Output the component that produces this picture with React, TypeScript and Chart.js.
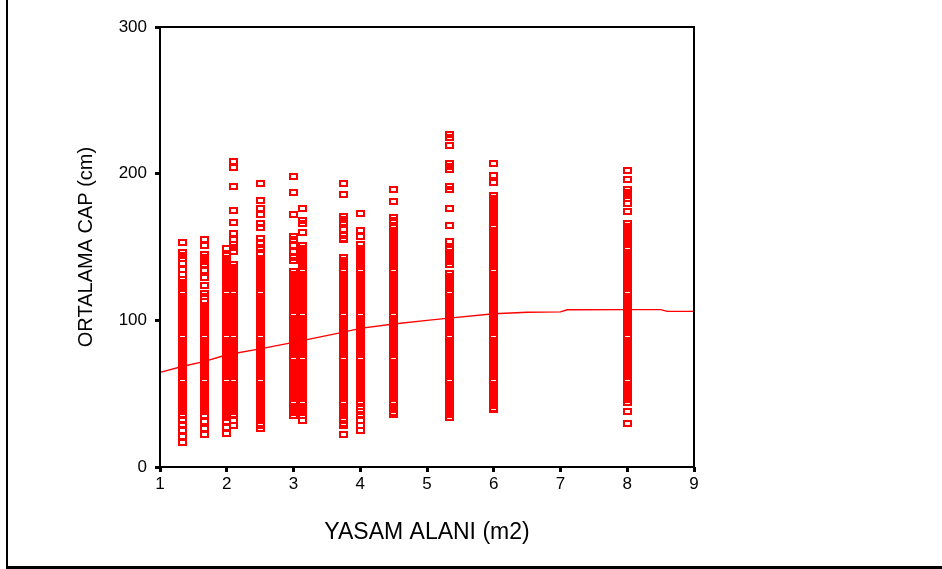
import React, { useEffect, useRef } from "react";
import { Chart, registerables } from "chart.js";

Chart.register(...registerables);

// Axis ticks
const xTicks = [1, 2, 3, 4, 5, 6, 7, 8, 9];
const yTicks = [0, 100, 200, 300];

// Living-area categories (x) — YASAM ALANI (m2)
const areaCategories = [1.33, 1.67, 2.0, 2.1, 2.5, 3.0, 3.14, 3.75, 4.0, 4.5, 5.33, 6.0, 8.0];

// Mean diameter values (y) — ORTALAMA CAP (cm), one list per area category
const capArea133 = [153, 146, 144, 142, 139, 135, 131, 128, 126, 124, 122, 120, 118, 116, 114, 112, 110, 108, 106, 104, 102, 100, 98, 96, 94, 92, 90, 88, 86, 84, 82, 80, 78, 76, 74, 72, 70, 68, 66, 64, 62, 60, 58, 56, 54, 52, 50, 48, 46, 44, 42, 40, 38, 36, 32, 29, 25, 21, 17];
const capArea167 = [155, 151, 145, 143, 140, 138, 134, 129, 124, 118, 116, 113, 110, 108, 106, 104, 102, 100, 98, 96, 94, 92, 90, 88, 86, 84, 82, 80, 78, 76, 74, 72, 70, 68, 66, 64, 62, 60, 58, 56, 54, 52, 50, 48, 46, 44, 42, 40, 38, 35, 31, 26, 22];
const capArea200 = [149, 144, 142, 140, 138, 136, 134, 132, 130, 128, 126, 124, 122, 120, 118, 116, 114, 112, 110, 108, 106, 104, 102, 100, 98, 96, 94, 92, 90, 88, 86, 84, 82, 80, 78, 76, 74, 72, 70, 68, 66, 64, 62, 60, 58, 56, 54, 52, 50, 48, 46, 44, 42, 40, 38, 36, 34, 31, 27, 23];
const capArea210 = [208, 204, 191, 175, 167, 159, 155, 152, 150, 147, 138, 136, 134, 132, 130, 128, 126, 124, 122, 120, 118, 116, 114, 112, 110, 108, 106, 104, 102, 100, 98, 96, 94, 92, 90, 88, 86, 84, 82, 80, 78, 76, 74, 72, 70, 68, 66, 64, 62, 60, 58, 56, 54, 52, 50, 48, 46, 44, 42, 40, 38, 36, 32, 28];
const capArea250 = [193, 182, 176, 172, 166, 163, 156, 153, 150, 148, 145, 142, 140, 138, 136, 134, 132, 130, 128, 126, 124, 122, 120, 118, 116, 114, 112, 110, 108, 106, 104, 102, 100, 98, 96, 94, 92, 90, 88, 86, 84, 82, 80, 78, 76, 74, 72, 70, 68, 66, 64, 62, 60, 58, 56, 54, 52, 50, 48, 46, 44, 42, 40, 38, 36, 34, 32, 30, 28, 26];
const capArea300 = [198, 187, 172, 157, 155, 151, 147, 143, 141, 133, 131, 129, 127, 125, 123, 121, 119, 117, 115, 113, 111, 109, 107, 105, 103, 101, 99, 97, 95, 93, 91, 89, 87, 85, 83, 81, 79, 77, 75, 73, 71, 69, 67, 65, 63, 61, 59, 57, 55, 53, 51, 49, 47, 45, 43, 41, 39, 37, 35];
const capArea314 = [176, 168, 166, 160, 151, 149, 147, 145, 143, 141, 139, 137, 135, 133, 131, 129, 127, 125, 123, 121, 119, 117, 115, 113, 111, 109, 107, 105, 103, 101, 99, 97, 95, 93, 91, 89, 87, 85, 83, 81, 79, 77, 75, 73, 71, 69, 67, 65, 63, 61, 59, 57, 55, 53, 51, 49, 47, 45, 43, 41, 39, 37, 35, 32];
const capArea375 = [193, 186, 171, 169, 167, 162, 158, 156, 155, 143, 141, 139, 137, 135, 133, 131, 129, 127, 125, 123, 121, 119, 117, 115, 113, 111, 109, 107, 105, 103, 101, 99, 97, 95, 93, 91, 89, 87, 85, 83, 81, 79, 77, 75, 73, 71, 69, 67, 65, 63, 61, 59, 57, 55, 53, 51, 49, 47, 45, 43, 41, 39, 37, 35, 33, 30, 28, 22];
const capArea400 = [173, 161, 157, 152, 149, 147, 145, 143, 141, 139, 137, 135, 133, 131, 129, 127, 125, 123, 121, 119, 117, 115, 113, 111, 109, 107, 105, 103, 101, 99, 97, 95, 93, 91, 89, 87, 85, 83, 81, 79, 77, 75, 73, 71, 69, 67, 65, 63, 61, 59, 57, 55, 53, 51, 49, 47, 45, 43, 41, 38, 36, 32, 28, 25];
const capArea450 = [189, 181, 170, 168, 165, 163, 161, 159, 157, 155, 153, 151, 149, 147, 145, 143, 141, 139, 137, 135, 133, 131, 129, 127, 125, 123, 121, 119, 117, 115, 113, 111, 109, 107, 105, 103, 101, 99, 97, 95, 93, 91, 89, 87, 85, 83, 81, 79, 77, 75, 73, 71, 69, 67, 65, 63, 61, 59, 57, 55, 53, 51, 49, 47, 45, 43, 41, 39, 37, 36];
const capArea533 = [227, 225, 219, 207, 205, 203, 191, 189, 176, 165, 154, 150, 148, 146, 144, 142, 140, 138, 132, 130, 128, 126, 124, 122, 120, 118, 116, 114, 112, 110, 108, 106, 104, 102, 100, 98, 96, 94, 92, 90, 88, 86, 84, 82, 80, 78, 76, 74, 72, 70, 68, 66, 64, 62, 60, 58, 56, 54, 52, 50, 48, 46, 44, 42, 40, 38, 36, 34];
const capArea600 = [207, 199, 194, 185, 183, 181, 179, 177, 175, 173, 171, 169, 167, 165, 163, 161, 159, 157, 155, 153, 151, 149, 147, 145, 143, 141, 139, 137, 135, 133, 131, 129, 127, 125, 123, 121, 118, 116, 114, 112, 110, 108, 106, 104, 102, 100, 98, 96, 94, 92, 90, 88, 86, 84, 82, 80, 78, 76, 74, 72, 70, 68, 66, 64, 62, 60, 58, 56, 54, 52, 50, 48, 46, 44, 42, 40, 39];
const capArea800 = [202, 196, 189, 187, 185, 183, 180, 174, 166, 164, 162, 160, 158, 156, 154, 152, 150, 148, 146, 144, 142, 140, 138, 136, 134, 132, 130, 128, 126, 124, 122, 120, 118, 116, 114, 112, 110, 108, 106, 104, 102, 100, 98, 96, 94, 92, 90, 88, 86, 84, 82, 80, 78, 76, 74, 72, 70, 68, 66, 64, 62, 60, 58, 56, 54, 52, 50, 48, 46, 44, 38, 30];

const capColumns = [capArea133, capArea167, capArea200, capArea210, capArea250, capArea300, capArea314, capArea375, capArea400, capArea450, capArea533, capArea600, capArea800];

// Fit line
const fitX = [1.0, 1.33, 1.67, 2.0, 2.5, 3.0, 3.33, 3.75, 4.0, 4.5, 5.0, 5.33, 6.0, 6.5, 7.0, 7.1, 8.0, 8.5, 8.6, 9.0];
const fitY = [64.5, 68.5, 72, 76.5, 80.5, 85, 88, 92, 94.5, 97.5, 100, 101.5, 104.5, 105.5, 105.8, 107.2, 107.3, 107.3, 106.1, 106.1];

const RED = "#ff0000";
const FONT = "Arial, 'Liberation Sans', sans-serif";

export default function App() {
  const ref = useRef<HTMLCanvasElement>(null);

  useEffect(() => {
    document.body.style.margin = "0";
    const mark = document.createElement("canvas");
    mark.width = 9;
    mark.height = 7;
    const m = mark.getContext("2d")!;
    m.fillStyle = RED;
    m.fillRect(0, 0, 9, 7);
    m.clearRect(2, 2, 5, 3);

    const points: { x: number; y: number }[] = [];
    areaCategories.forEach((x, i) => {
      capColumns[i].forEach((y) => points.push({ x, y }));
    });
    const fitLine = fitX.map((x, i) => ({ x, y: fitY[i] }));

    const boxPlugin = {
      id: "box",
      beforeDatasetsDraw(chart: any) {
        chart.ctx.imageSmoothingEnabled = false;
      },
      afterDatasetsDraw(chart: any) {
        chart.ctx.imageSmoothingEnabled = true;
      },
      afterDraw(chart: any) {
        const { ctx, chartArea } = chart;
        ctx.save();
        ctx.strokeStyle = "#000";
        ctx.lineWidth = 2;
        ctx.strokeRect(chartArea.left, chartArea.top, chartArea.right - chartArea.left, chartArea.bottom - chartArea.top);
        ctx.restore();
      },
    };

    const chart = new Chart(ref.current!, {
      type: "scatter",
      data: {
        datasets: [
          {
            type: "line",
            data: fitLine,
            borderColor: RED,
            borderWidth: 1.4,
            pointRadius: 0,
            tension: 0,
            fill: false,
          } as any,
          {
            type: "scatter",
            data: points,
            pointStyle: mark as any,
            pointRadius: 4,
            backgroundColor: RED,
            borderColor: RED,
          },
        ],
      },
      options: {
        responsive: false,
        animation: false,
        events: [],
        layout: { padding: { left: 0, top: 27, right: 248, bottom: 0 } },
        plugins: { legend: { display: false }, tooltip: { enabled: false } },
        scales: {
          x: {
            type: "linear",
            min: 1,
            max: 9,
            afterBuildTicks: (s: any) => {
              s.ticks = xTicks.map((v) => ({ value: v }));
            },
            afterFit: (s: any) => {
              s.height = 102;
            },
            border: { display: false },
            grid: { drawOnChartArea: false, drawTicks: true, tickLength: 5, tickWidth: 3, tickColor: "#000" },
            ticks: { autoSkip: false, maxRotation: 0, padding: 2, color: "#000", font: { family: FONT, size: 17 } },
            title: {
              display: true,
              text: "YASAM ALANI (m2)",
              color: "#000",
              font: { family: FONT, size: 23 },
              padding: { top: 0, bottom: 23 },
            },
          },
          y: {
            type: "linear",
            min: 0,
            max: 300,
            afterBuildTicks: (s: any) => {
              s.ticks = yTicks.map((v) => ({ value: v }));
            },
            afterFit: (s: any) => {
              s.width = 160;
            },
            border: { display: false },
            grid: { drawOnChartArea: false, drawTicks: true, tickLength: 5, tickWidth: 3, tickColor: "#000" },
            ticks: { padding: 8, color: "#000", font: { family: FONT, size: 17 } },
            title: {
              display: true,
              text: "ORTALAMA CAP (cm)",
              color: "#000",
              font: { family: FONT, size: 20 },
              padding: { top: 74, bottom: 0 },
            },
          },
        },
      },
      plugins: [boxPlugin],
    });
    return () => chart.destroy();
  }, []);

  return (
    <div style={{ position: "relative", width: 942, height: 569, background: "#fff" }}>
      <canvas ref={ref} width={942} height={569} style={{ display: "block", width: 942, height: 569 }} />
      <div
        style={{
          position: "absolute",
          left: 6,
          top: 0,
          width: 936,
          height: 569,
          boxSizing: "border-box",
          borderLeft: "2px solid #000",
          borderBottom: "3px solid #000",
          pointerEvents: "none",
        }}
      />
    </div>
  );
}
